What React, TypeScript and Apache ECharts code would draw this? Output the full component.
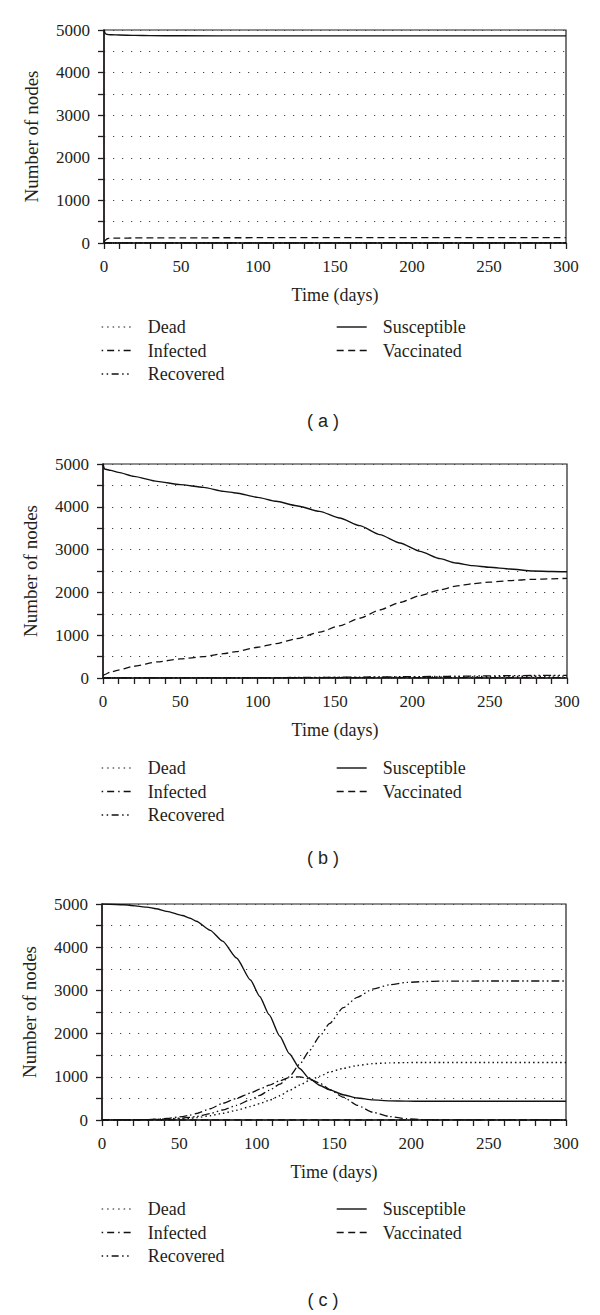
import React, { useEffect, useRef } from "react";
import * as echarts from "echarts";

// ---------- Data ----------
const seriesNames = ["Dead", "Infected", "Recovered", "Susceptible", "Vaccinated"];
const legendLeftNames = ["Dead", "Infected", "Recovered"];
const legendRightNames = ["Susceptible", "Vaccinated"];
const captions = ["( a )", "( b )", "( c )"];

// Panel (a)
const daysA = [0, 1, 2, 3, 5, 10, 20, 30, 50, 100, 150, 200, 250, 300];
const deadA = [0, 0, 0, 0, 0, 0, 0, 0, 0, 0, 0, 0, 0, 0];
const infectedA = [0, 1, 1, 1, 1, 1, 1, 1, 1, 1, 1, 1, 1, 1];
const recoveredA = [0, 0, 0, 0, 0, 0, 0, 0, 0, 0, 0, 0, 0, 0];
const susceptibleA = [5000, 4910, 4897, 4892, 4887, 4882, 4874, 4868, 4864, 4862, 4862, 4862, 4862, 4862];
const vaccinatedA = [20, 70, 100, 108, 112, 115, 118, 120, 122, 124, 125, 126, 127, 128];

// Panel (b)
const daysB = [0, 1, 5, 10, 20, 35, 50, 65, 78, 86, 100, 112, 125, 140, 153, 166, 179, 192, 205, 218, 228, 239, 250, 263, 278, 290, 300];
const deadB = [0, 0, 0, 0, 0, 1, 2, 3, 3, 4, 5, 6, 8, 10, 12, 14, 17, 20, 23, 26, 29, 32, 35, 38, 41, 43, 45];
const infectedB = [0, 1, 2, 2, 3, 3, 4, 4, 5, 5, 5, 6, 6, 7, 7, 8, 8, 9, 9, 10, 10, 10, 10, 10, 10, 10, 10];
const recoveredB = [0, 0, 0, 0, 1, 2, 3, 4, 5, 6, 8, 10, 12, 15, 18, 22, 26, 30, 34, 38, 42, 46, 50, 54, 58, 61, 63];
const susceptibleB = [5000, 4883, 4850, 4805, 4712, 4595, 4517, 4455, 4361, 4322, 4221, 4128, 4026, 3894, 3738, 3559, 3349, 3154, 2959, 2788, 2687, 2625, 2586, 2547, 2500, 2490, 2484];
const vaccinatedB = [50, 80, 140, 185, 275, 376, 445, 500, 568, 615, 718, 804, 918, 1070, 1220, 1398, 1590, 1765, 1925, 2060, 2145, 2205, 2240, 2275, 2305, 2318, 2329];

// Panel (c)
const daysC = [0, 14, 29, 35, 42, 52, 57, 61, 70, 78, 87, 96, 102, 108, 115, 121, 128, 134, 141, 147, 156, 165, 175, 186, 197, 208, 220, 250, 300];
const deadC = [0, 0, 2, 5, 10, 25, 39, 55, 100, 155, 225, 312, 380, 455, 560, 680, 810, 915, 1015, 1110, 1195, 1262, 1305, 1322, 1329, 1331, 1332, 1332, 1332];
const infectedC = [0, 2, 8, 18, 35, 80, 116, 150, 260, 386, 500, 625, 715, 805, 910, 985, 1000, 950, 850, 710, 530, 340, 180, 80, 30, 8, 2, 0, 0];
const recoveredC = [0, 2, 8, 15, 25, 45, 62, 80, 150, 232, 340, 470, 570, 685, 830, 1000, 1300, 1600, 1950, 2230, 2600, 2840, 3030, 3130, 3184, 3205, 3215, 3218, 3218];
const susceptibleC = [5000, 4984, 4928, 4890, 4830, 4733, 4670, 4600, 4390, 4140, 3750, 3240, 2860, 2440, 1940, 1540, 1185, 960, 800, 700, 585, 510, 466, 443, 436, 434, 433, 433, 433];
const vaccinatedC = [0, 0, 0, 0, 0, 0, 0, 0, 0, 0, 0, 0, 0, 0, 0, 0, 0, 0, 0, 0, 0, 0, 0, 0, 0, 0, 0, 0, 0];

const yTicks = { min: 0, max: 5000, interval: 1000 };
const xTicks = { min: 0, max: 300, interval: 50 };

// ---------- Layout / style ----------
const panels = [
  { days: daysA, values: [deadA, infectedA, recoveredA, susceptibleA, vaccinatedA], grid: { left: 104, top: 30, width: 462, height: 213 }, legendTop: 317, captionY: 421 },
  { days: daysB, values: [deadB, infectedB, recoveredB, susceptibleB, vaccinatedB], grid: { left: 103, top: 464, width: 464, height: 214 }, legendTop: 758, captionY: 858 },
  { days: daysC, values: [deadC, infectedC, recoveredC, susceptibleC, vaccinatedC], grid: { left: 102, top: 904, width: 464, height: 216 }, legendTop: 1199, captionY: 1300 },
];

const INK = "#231f20";
const LINE = "#111111";
const SERIF = "Liberation Serif";
const lineStyles: Record<string, any> = {
  Dead: { type: [1.5, 3], width: 1.4 },
  Infected: { type: [8, 3, 1.5, 3], width: 1.3 },
  Recovered: { type: [8, 3, 1.5, 3, 1.5, 3], width: 1.3 },
  Susceptible: { type: "solid", width: 1.4 },
  Vaccinated: { type: [7, 4], width: 1.3 },
};
const legendLineStyles: Record<string, any> = {
  Dead: { type: [1.5, 4], width: 1.2 },
  Infected: { type: [1.5, 4, 7, 4], width: 1.3 },
  Recovered: { type: [1.5, 3.5, 1.5, 3.5, 7, 3.5], width: 1.3 },
  Susceptible: { type: "solid", width: 1.4 },
  Vaccinated: { type: [7, 4.5], width: 1.3 },
};

const dotted = { color: "#444", width: 1.2, type: [1.2, 7.8] };

function legendItems(names: string[]) {
  return names.map((name) => ({
    name,
    icon: undefined,
    lineStyle: { color: LINE, ...legendLineStyles[name] },
    itemStyle: { color: "transparent", borderColor: "transparent", borderWidth: 0, opacity: 0 },
  }));
}

function buildOption() {
  const grid: any[] = [];
  const xAxis: any[] = [];
  const yAxis: any[] = [];
  const series: any[] = [];
  const legend: any[] = [];
  const graphic: any[] = [];

  panels.forEach((p, pi) => {
    grid.push({ ...p.grid, show: true, borderColor: INK, borderWidth: 1.2, backgroundColor: "transparent" });
    xAxis.push({
      type: "value",
      gridIndex: pi,
      ...xTicks,
      name: "Time (days)",
      nameLocation: "middle",
      nameGap: 43,
      nameTextStyle: { fontFamily: SERIF, fontSize: 18, color: INK },
      axisLine: { show: true, onZero: false, lineStyle: { color: INK, width: 1.6 } },
      axisTick: { show: true, inside: false, length: 6, lineStyle: { color: INK, width: 1.3 } },
      minorTick: { show: true, splitNumber: 5, length: 6, lineStyle: { color: INK, width: 1.3 } },
      axisLabel: { margin: 15, fontFamily: SERIF, fontSize: 17, color: INK, formatter: (v: number) => String(v) },
      splitLine: { show: false },
    });
    yAxis.push({
      type: "value",
      gridIndex: pi,
      ...yTicks,
      name: "Number of nodes",
      nameLocation: "middle",
      nameGap: 63,
      nameTextStyle: { fontFamily: SERIF, fontSize: 19, color: INK },
      axisLine: { show: true, onZero: false, lineStyle: { color: INK, width: 1.6 } },
      axisTick: { show: true, inside: false, length: 6, lineStyle: { color: INK, width: 1.3 } },
      minorTick: { show: true, splitNumber: 2, length: 6, lineStyle: { color: INK, width: 1.3 } },
      axisLabel: { margin: 14, fontFamily: SERIF, fontSize: 17, color: INK, formatter: (v: number) => String(v) },
      splitLine: { show: true, lineStyle: dotted },
      minorSplitLine: { show: true, lineStyle: dotted },
    });
    seriesNames.forEach((name, si) => {
      series.push({
        type: "line",
        name,
        xAxisIndex: pi,
        yAxisIndex: pi,
        data: p.days.map((d, i) => [d, p.values[si][i]]),
        symbol: "none",
        showSymbol: false,
        smooth: 0.2,
        smoothMonotone: "x",
        itemStyle: { color: LINE },
        lineStyle: { color: LINE, ...lineStyles[name] },
        z: 3,
      });
    });
    const legendCommon = {
      orient: "vertical",
      top: p.legendTop,
      padding: 0,
      itemWidth: 30,
      itemHeight: 12,
      itemGap: 3.5,
      selectedMode: false,
      itemStyle: { color: "transparent", borderColor: "transparent", borderWidth: 0, opacity: 0 },
      textStyle: { fontFamily: SERIF, fontSize: 18, lineHeight: 20, color: INK, padding: [0, 0, 0, 11] },
    };
    legend.push({ ...legendCommon, left: 101, data: legendItems(legendLeftNames) });
    legend.push({ ...legendCommon, left: 336, data: legendItems(legendRightNames) });
    graphic.push({
      type: "text",
      x: 323,
      y: p.captionY,
      style: {
        text: captions[pi],
        fontFamily: "Liberation Sans",
        fontSize: 18,
        fill: INK,
        align: "center",
        verticalAlign: "middle",
      },
    });
  });

  return {
    animation: false,
    backgroundColor: "#ffffff",
    grid,
    xAxis,
    yAxis,
    series,
    legend,
    graphic,
  };
}

export default function App() {
  const ref = useRef<HTMLDivElement>(null);
  useEffect(() => {
    if (!ref.current) return;
    const chart = echarts.init(ref.current, undefined, { renderer: "svg" });
    chart.setOption(buildOption() as any);
    return () => chart.dispose();
  }, []);
  return (
    <div
      ref={ref}
      style={{ position: "absolute", left: 0, top: 0, width: 600, height: 1315, background: "#fff" }}
    />
  );
}
